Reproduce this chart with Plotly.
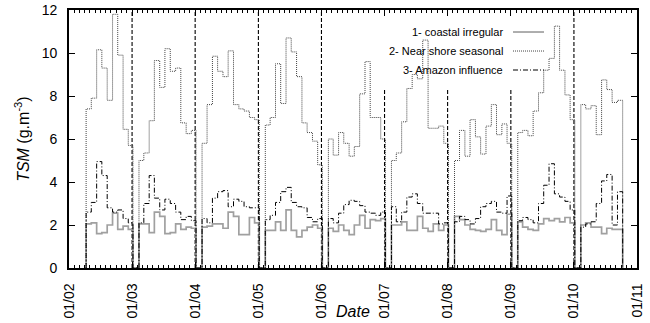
import plotly.graph_objects as go

# ---------------- data (monthly values, one list per year) ----------------
years = [2002, 2003, 2004, 2005, 2006, 2007, 2008, 2009, 2010]
first_month = [4, 2, 2, 2, 2, 2, 2, 2, 2]

coastal = [
    [2.05, 2.1, 1.6, 1.65, 2.0, 2.55, 1.8, 1.95, 1.8],
    [2.05, 2.05, 1.65, 2.6, 2.4, 1.6, 1.65, 2.05, 1.8, 1.9, 1.85],
    [1.9, 1.95, 2.05, 2.05, 1.85, 2.6, 2.4, 1.55, 1.55, 2.35, 2.1],
    [1.75, 1.75, 2.15, 1.75, 2.7, 1.75, 1.45, 1.75, 1.9, 2.0, 1.85],
    [1.85, 1.7, 2.0, 1.75, 1.55, 2.0, 2.45, 1.85, 2.25, 2.2, 2.3],
    [2.0, 2.0, 2.15, 1.75, 1.75, 2.4, 1.85, 1.7, 2.05, 1.75, 2.0],
    [2.4, 2.25, 2.0, 1.8, 1.75, 1.7, 1.8, 2.25, 1.75, 1.55, 2.5],
    [2.15, 1.9, 1.8, 1.75, 2.05, 2.3, 2.2, 2.3, 2.15, 2.35, 2.1],
    [2.0, 2.1, 1.9, 1.9, 1.6, 1.85, 1.8, 1.8],
]
nearshore = [
    [7.4, 7.9, 10.15, 9.3, 7.8, 11.8, 9.9, 6.45, 5.7],
    [5.0, 5.35, 6.85, 9.65, 8.4, 10.2, 9.15, 9.3, 6.75, 6.25, 6.4],
    [5.8, 7.6, 9.85, 9.15, 8.9, 10.1, 7.6, 7.4, 7.3, 7.0, 6.9],
    [6.65, 7.0, 9.5, 7.65, 10.7, 10.05, 8.9, 6.75, 6.3, 5.9, 4.8],
    [6.0, 5.25, 6.3, 5.8, 5.2, 5.65, 8.1, 9.6, 7.0, 7.0, 6.0],
    [5.0, 5.35, 6.8, 8.35, 9.0, 8.8, 10.6, 6.5, 6.5, 6.6, 5.8],
    [5.0, 6.4, 5.2, 6.9, 6.1, 5.3, 6.6, 7.6, 6.2, 6.7, 5.8],
    [6.3, 6.4, 6.15, 7.3, 8.15, 9.2, 9.75, 11.25, 9.2, 8.05, 6.9],
    [7.6, 7.4, 7.55, 6.2, 8.75, 8.3, 7.7, 7.8],
]
amazon = [
    [2.6, 3.05, 4.95, 4.3, 2.8, 2.6, 2.7, 2.3, 2.1],
    [2.1, 3.0, 4.3, 3.25, 2.7, 3.2, 3.0, 2.6, 2.25, 2.4, 2.2],
    [2.3, 2.1, 3.25, 3.55, 3.6, 2.85, 3.2, 3.1, 2.85, 2.8, 2.8],
    [2.25, 2.45, 3.05, 3.55, 3.75, 3.05, 2.85, 2.8, 2.35, 2.15, 2.3],
    [2.3, 2.1, 2.55, 2.95, 3.15, 3.1, 2.9, 2.6, 2.55, 2.45, 2.6],
    [2.85, 2.15, 2.6, 3.3, 3.45, 3.0, 2.55, 2.55, 2.55, 2.05, 2.1],
    [2.15, 2.4, 2.25, 2.05, 2.3, 2.85, 3.0, 3.1, 2.6, 2.55, 3.35],
    [2.2, 2.35, 2.25, 2.1, 3.0, 3.85, 4.85, 3.45, 3.3, 3.1, 2.7],
    [1.9, 2.05, 2.15, 3.0, 4.05, 4.35, 2.0, 3.55],
]

year_marks = ["2003-01-01", "2004-01-01", "2005-01-01", "2006-01-01",
              "2007-01-01", "2008-01-01", "2009-01-01", "2010-01-01"]
year_mark_top = [12, 12, 12, 12, 8.3, 8.3, 8.3, 12]

tick_vals = [f"{y}-01-01" for y in range(2002, 2012)]
legend_names = ["1- coastal irregular", "2- Near shore seasonal", "3- Amazon influence"]


def build(series):
    xs, ys = [], []
    for yr, m0, vals in zip(years, first_month, series):
        start = f"{yr}-{m0:02d}-10"
        xs.append(start); ys.append(0)
        for k, v in enumerate(vals):
            m = m0 + k
            xs.append(f"{yr}-{m:02d}-10"); ys.append(v)
        m_end = m0 + len(vals)
        if m_end > 12:
            end = f"{yr + 1}-01-06"
        else:
            end = f"{yr}-{m_end:02d}-10"
        xs.append(end); ys.append(0)
    return xs, ys


fig = go.Figure()

# year separators
vx, vy = [], []
for d, t in zip(year_marks, year_mark_top):
    vx += [d, d, None]
    vy += [0, t, None]
fig.add_trace(go.Scatter(x=vx, y=vy, mode="lines", showlegend=False,
                         line=dict(color="black", width=1.1, dash="4px,2px")))

styles = [
    dict(color="#a0a0a0", width=1.7, dash="solid"),
    dict(color="#444444", width=1, dash="1px,1px"),
    dict(color="black", width=1, dash="5px,2px,1px,2px"),
]
for name, series, st in zip(legend_names, [coastal, nearshore, amazon], styles):
    xs, ys = build(series)
    fig.add_trace(go.Scatter(x=xs, y=ys, mode="lines", line_shape="hv",
                             name=name, showlegend=False, line=st))

# legend drawn as annotations + sample lines (gnuplot style: text then sample)
leg_y = [0.9147, 0.841, 0.7674]
for name, st, yy in zip(legend_names, styles, leg_y):
    fig.add_annotation(x=0.7676, y=yy, xref="paper", yref="paper", text=name,
                       showarrow=False, xanchor="right", yanchor="middle",
                       font=dict(size=11, color="black"))
    fig.add_shape(type="line", xref="paper", yref="paper", x0=0.7817, x1=0.8363,
                  y0=yy, y1=yy, line=dict(color=st["color"], width=st["width"], dash=st["dash"]))

FONT = "Liberation Sans, Arial, Helvetica, sans-serif"

fig.add_annotation(x=0.5, y=-0.167, xref="paper", yref="paper", text="<i>Date</i>",
                   showarrow=False, xanchor="center", yanchor="middle",
                   font=dict(size=16, color="black"))
fig.add_annotation(x=-0.083, y=0.5, xref="paper", yref="paper",
                   text="<i>TSM</i> (g.m<sup>-3</sup>)", textangle=-90,
                   showarrow=False, xanchor="center", yanchor="middle",
                   font=dict(size=16, color="black"))

fig.update_xaxes(type="date", range=["2002-01-01", "2011-01-01"], automargin=False,
                 tickvals=tick_vals, tickformat="%m/%y", tickangle=-90,
                 ticks="inside", ticklen=6, tickcolor="black", tickwidth=1,
                 ticklabelstandoff=8,
                 showline=True, linecolor="black", linewidth=1.8, mirror="allticks",
                 showgrid=False, zeroline=False,
                 tickfont=dict(size=14, color="black"),
                 minor=dict(dtick="M1", tick0="2002-01-01", ticks="inside", ticklen=3,
                            tickcolor="black", tickwidth=1, showgrid=False))
fig.update_yaxes(range=[0, 12], dtick=2, ticks="inside", ticklen=6, tickcolor="black",
                 ticklabelstandoff=7, automargin=False,
                 showline=True, linecolor="black", linewidth=1.8, mirror="allticks",
                 showgrid=False, zeroline=False, tickfont=dict(size=14, color="black"))

fig.update_layout(width=650, height=323, margin=dict(l=69, r=13, t=10, b=55),
                  plot_bgcolor="white", paper_bgcolor="white",
                  font=dict(family=FONT, color="black"), showlegend=False)

fig.write_html("out.html")
